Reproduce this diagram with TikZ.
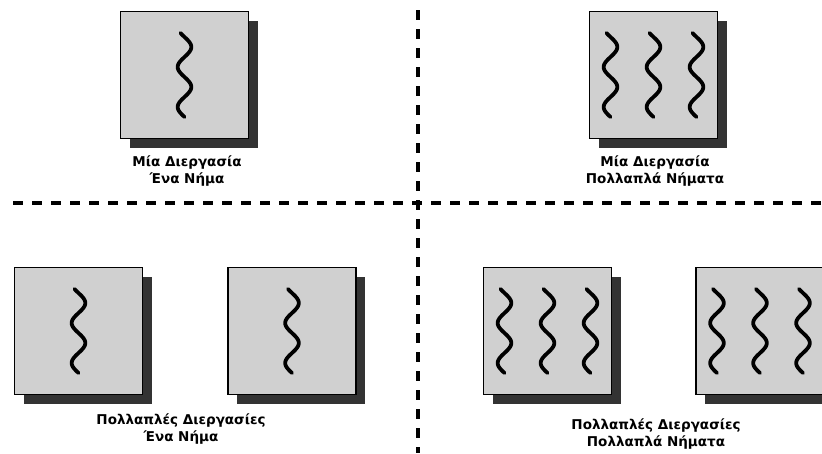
\documentclass[tikz,border=0pt]{standalone}
\usepackage{fontspec}
\setmainfont{DejaVu Sans}
\usetikzlibrary{shadows}
\definecolor{boxgray}{HTML}{D0D0D0}
\definecolor{shadowgray}{HTML}{333333}
\begin{document}
\begin{tikzpicture}[x=1pt,y=-1pt,
  procbox/.style={draw=black, line width=1.6pt, fill=boxgray,
    minimum width=128pt, minimum height=127pt, inner sep=0pt,
    drop shadow={shadow xshift=9pt, shadow yshift=-9pt, fill=shadowgray, opacity=1}},
  caption/.style={align=center, inner sep=0pt,
    font=\bfseries\fontsize{13.5}{17}\selectfont},
  divider/.style={line width=3.2pt, dash pattern=on 10pt off 9pt},
  thread/.pic={\draw[line width=3.8pt, line cap=round, smooth]
     plot[domain=-42:42, samples=70] ({6.8*sin(9*(\x+42)-36)}, \x);}
]
\clip (0,0) rectangle (822,453);
% dividers
\coordinate (hl) at (13,203);
\coordinate (hr) at (822,203);
\coordinate (vt) at (418,10);
\coordinate (vb) at (418,453);
\draw[divider] (hl) -- (hr);
\draw[divider] (vt) -- (vb);
% top-left
\node[procbox] (tl) at (184.5,75) {};
\pic at (tl.center) {thread};
\node[caption] (tlc) at (187,171) {Μία Διεργασία\\Ένα Νήμα};
% top-right
\node[procbox] (tr) at (653.5,75) {};
\pic at ([xshift=-43pt]tr.center) {thread};
\pic at (tr.center) {thread};
\pic at ([xshift=43pt]tr.center) {thread};
\node[caption] (trc) at (655,171) {Μία Διεργασία\\Πολλαπλά Νήματα};
% bottom-left
\node[procbox] (bl1) at (78.5,331) {};
\pic at (bl1.center) {thread};
\node[procbox] (bl2) at (292,331) {};
\pic at (bl2.center) {thread};
\node[caption] (blc) at (181,429) {Πολλαπλές Διεργασίες\\Ένα Νήμα};
% bottom-right
\node[procbox] (br1) at (547.5,331) {};
\pic at ([xshift=-43pt]br1.center) {thread};
\pic at (br1.center) {thread};
\pic at ([xshift=43pt]br1.center) {thread};
\node[procbox] (br2) at (760,331) {};
\pic at ([xshift=-43pt]br2.center) {thread};
\pic at (br2.center) {thread};
\pic at ([xshift=43pt]br2.center) {thread};
\node[caption] (brc) at (656,434) {Πολλαπλές Διεργασίες\\Πολλαπλά Νήματα};
\end{tikzpicture}
\end{document}
